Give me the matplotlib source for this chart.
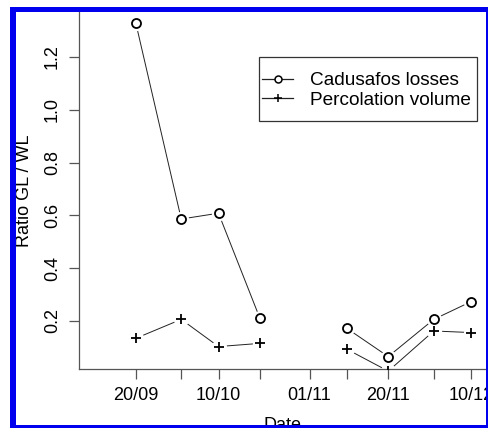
import numpy as np
import matplotlib
matplotlib.use("Agg")
import matplotlib.pyplot as plt
from matplotlib.lines import Line2D
from matplotlib.patches import Rectangle
from datetime import datetime

plt.rcParams["font.family"] = ["Liberation Sans", "DejaVu Sans"]

# sampling dates (no sample on 01/11, hence the gap)
dates = ["20/09", "01/10", "10/10", "20/10", "01/11", "10/11", "20/11", "01/12", "10/12"]
cadusafos = [1.33, 0.586, 0.608, 0.210, np.nan, 0.172, 0.065, 0.206, 0.273]
percolation = [0.134, 0.206, 0.103, 0.115, np.nan, 0.093, 0.010, 0.162, 0.156]
shown_labels = ["20/09", "10/10", "01/11", "20/11", "10/12"]

x = [datetime.strptime(d + "/2003", "%d/%m/%Y") for d in dates]
x = matplotlib.dates.date2num(x)

W, H = 489, 428
fig = plt.figure(figsize=(W / 100, H / 100), dpi=100)
fig.patch.set_facecolor("white")

# axes box in pixel units (left, top, right, bottom)
L, T, R, B = 79, 12, 487, 369
ax = fig.add_axes([L / W, 1 - B / H, (R - L) / W, (B - T) / H])

ink = "#222222"
for vals, mk, ms in [(cadusafos, "o", 6.5), (percolation, "+", 7.5)]:
    ax.plot(x, vals, color=ink, lw=0.7, zorder=2)
    # white halo so the line stops short of each point
    ax.plot(x, vals, ls="none", marker="o", ms=11, mfc="white", mec="none", zorder=2.1)
    ax.plot(x, vals, ls="none", marker=mk, ms=ms, mfc="white", mec="black",
            mew=1.3, zorder=3)

# day scale: 20/09 sits at pixel 135.7, 4.14 px per day
x0 = x[0]
ax.set_xlim(x0 + (L - 135.7) / 4.14, x0 + (R - 135.7) / 4.14)
ax.set_ylim(0.018, 1.370)

ax.set_xticks(x)
ax.set_xticklabels([d if d in shown_labels else "" for d in dates])
ax.set_yticks([0.2, 0.4, 0.6, 0.8, 1.0, 1.2])
ax.set_yticklabels(["0.2", "0.4", "0.6", "0.8", "1.0", "1.2"], rotation=90, va="center")

for s in ["top", "right"]:
    ax.spines[s].set_visible(False)
for s in ["left", "bottom"]:
    ax.spines[s].set_color("#555555")
    ax.spines[s].set_linewidth(0.9)
ax.tick_params(axis="both", length=7, width=0.9, color="#555555", labelsize=13,
               labelcolor="black")
ax.tick_params(axis="x", pad=6)
ax.tick_params(axis="y", pad=6)

ax.set_xlabel("Date", fontsize=13, labelpad=9)
ax.set_ylabel("Ratio GL / WL", fontsize=13, labelpad=8)

handles = [
    Line2D([], [], color=ink, lw=0.9, marker="o", ms=5, mfc="white", mec="black", mew=1.1),
    Line2D([], [], color=ink, lw=0.9, marker="+", ms=6, mec="black", mew=1.1),
]
leg = ax.legend(handles, ["Cadusafos losses", "Percolation volume"],
                loc="upper left", bbox_to_anchor=(262 / W, 1 - 72 / H),
                bbox_transform=fig.transFigure, borderaxespad=0, borderpad=0,
                fontsize=13.7, frameon=False, handlelength=1.63,
                handletextpad=0.9, labelspacing=0.13)

# legend box, drawn separately so the inner padding can be tight at the sides
fig.add_artist(Rectangle((259 / W, 1 - 121 / H), (477 - 259) / W, (121 - 57) / H,
                         transform=fig.transFigure, facecolor="none",
                         edgecolor="#333333", lw=0.9, zorder=4))


# white margin and blue frame drawn on top
def band(x, y, w, h, color):
    fig.add_artist(Rectangle((x / W, 1 - (y + h) / H), w / W, h / H,
                             transform=fig.transFigure, facecolor=color,
                             edgecolor="none", zorder=10))


band(0, 0, W, 7, "white")
band(0, 0, 10, H, "white")
blue = "#0000ee"
band(10, 7, W - 10, 5, blue)
band(10, 7, 5.5, H - 7, blue)
band(486, 7, 3, H - 7, blue)
band(10, 424.5, W - 10, 3.5, blue)

fig.savefig("out.png", dpi=100)
